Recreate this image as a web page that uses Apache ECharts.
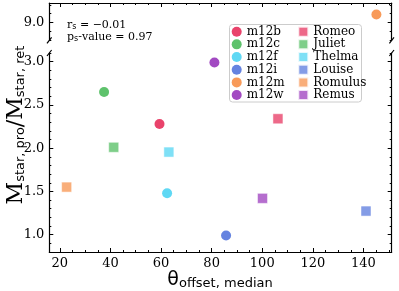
<!DOCTYPE html>
<html>
<head>
<meta charset="utf-8">
<script src="https://cdn.jsdelivr.net/npm/echarts@6/dist/echarts.min.js"></script>
<style>html,body{margin:0;padding:0;background:#fff}#c{width:399px;height:291px}</style>
</head>
<body>
<div id="c"></div>
<script>
// ---- data ----
const circleNames = ['m12b', 'm12c', 'm12f', 'm12i', 'm12m', 'm12w'];
const circleX = [59.4, 37.5, 62.4, 85.7, 145.1, 81.1];
const circleY = [2.28, 2.65, 1.48, 0.99, 9.09, 2.99];
const squareNames = ['Romeo', 'Juliet', 'Thelma', 'Louise', 'Romulus', 'Remus'];
const squareX = [106.2, 41.3, 63.1, 141.0, 22.7, 100.1];
const squareY = [2.34, 2.01, 1.955, 1.273, 1.55, 1.42];
const colors = ['#e9436b', '#5ec26c', '#5fd8f4', '#6583e0', '#f89a59', '#a24ac2'];
const xTicks = [20, 40, 60, 80, 100, 120, 140];
const xMinorTicks = [20,25,30,35,40,45,50,55,60,65,70,75,80,85,90,95,100,105,110,115,120,125,130,135,140,145,150];
const yLowTicks = [1.0, 1.5, 2.0, 2.5, 3.0];
const yLowMinor = [0.8,0.9,1.0,1.1,1.2,1.3,1.4,1.5,1.6,1.7,1.8,1.9,2.0,2.1,2.2,2.3,2.4,2.5,2.6,2.7,2.8,2.9,3.0,3.1];
const yHighTicks = [9.0];
const yHighMinor = [8.8, 8.9, 9.0, 9.1, 9.2];
const xRange = [15.85, 151.15];
const yLowRange = [0.8, 3.1];
const yHighRange = [8.8, 9.22];
const statR = '−0.01';
const statP = '0.97';

const serif = 'DejaVu Serif';
const sans = 'DejaVu Sans';
const lineStyle = {color: '#000', width: 1.2};

function xAx(grid, pos, ticks, len, showLine, labels) {
  return {
    type: 'value', gridIndex: grid, position: pos, min: xRange[0], max: xRange[1],
    axisLine: {show: showLine, lineStyle: lineStyle},
    axisTick: {show: true, inside: true, length: len, customValues: ticks, lineStyle: {color: '#000', width: 1}},
    axisLabel: labels ? {show: true, customValues: ticks, fontFamily: serif, fontSize: 13, color: '#000', margin: 5} : {show: false},
    splitLine: {show: false}
  };
}
function yAx(grid, pos, range, ticks, len, showLine, labels) {
  return {
    type: 'value', gridIndex: grid, position: pos, min: range[0], max: range[1],
    axisLine: {show: showLine, lineStyle: lineStyle},
    axisTick: {show: true, inside: true, length: len, customValues: ticks, lineStyle: {color: '#000', width: 1}},
    axisLabel: labels ? {show: true, customValues: ticks, fontFamily: serif, fontSize: 13, color: '#000', margin: 5,
      formatter: v => v.toFixed(1)} : {show: false},
    splitLine: {show: false}
  };
}

const series = [];
circleNames.forEach((n, i) => {
  const high = circleY[i] > 5;
  series.push({
    name: n, type: 'scatter', symbol: 'circle', symbolSize: 10,
    xAxisIndex: high ? 0 : 2, yAxisIndex: high ? 0 : 4,
    itemStyle: {color: colors[i], opacity: 1},
    data: [[circleX[i], circleY[i]]]
  });
});
squareNames.forEach((n, i) => {
  const high = squareY[i] > 5;
  series.push({
    name: n, type: 'scatter', symbol: 'rect', symbolSize: 10,
    xAxisIndex: high ? 0 : 2, yAxisIndex: high ? 0 : 4,
    itemStyle: {color: colors[i], borderColor: '#fff', borderWidth: 0.6},
    data: [[squareX[i], squareY[i]]]
  });
});

const legendText = {fontFamily: serif, fontSize: 12, color: '#000', lineHeight: 12};
const option = {
  animation: false,
  grid: [
    {left: 49.3, right: 7.3, top: 3, height: 37.3},
    {left: 49.3, right: 7.3, top: 53, bottom: 39}
  ],
  xAxis: [
    xAx(0, 'top', xTicks, 4, true, false),
    xAx(0, 'top', xMinorTicks, 2, false, false),
    xAx(1, 'bottom', xTicks, 4, true, true),
    xAx(1, 'bottom', xMinorTicks, 2, false, false)
  ],
  yAxis: [
    yAx(0, 'left', yHighRange, yHighTicks, 4, true, true),
    yAx(0, 'left', yHighRange, yHighMinor, 2, false, false),
    yAx(0, 'right', yHighRange, yHighTicks, 4, true, false),
    yAx(0, 'right', yHighRange, yHighMinor, 2, false, false),
    yAx(1, 'left', yLowRange, yLowTicks, 4, true, true),
    yAx(1, 'left', yLowRange, yLowMinor, 2, false, false),
    yAx(1, 'right', yLowRange, yLowTicks, 4, true, false),
    yAx(1, 'right', yLowRange, yLowMinor, 2, false, false)
  ],
  legend: [
    {data: circleNames.map(n => ({name: n, icon: 'circle'})), orient: 'vertical', left: 231.7, top: 25.7, padding: 0,
      itemWidth: 10, itemHeight: 10, itemGap: 0.67, itemTextGap: 4, textStyle: legendText},
    {data: squareNames.map(n => ({name: n, icon: 'rect'})), orient: 'vertical', left: 297.3, top: 25.7, padding: 0,
      itemWidth: 10, itemHeight: 10, itemGap: 0.67, itemTextGap: 5, textStyle: legendText}
  ],
  graphic: [
    {type: 'rect', z: 1, shape: {x: 229.5, y: 24.5, width: 132, height: 77.5, r: 3},
      style: {fill: 'rgba(255,255,255,0.8)', stroke: '#cccccc', lineWidth: 1}},
    // axis break marks
    {type: 'line', shape: {x1: 47, y1: 43.3, x2: 51.6, y2: 37.3}, style: {stroke: '#000', lineWidth: 1.2}},
    {type: 'line', shape: {x1: 389.4, y1: 43.3, x2: 394, y2: 37.3}, style: {stroke: '#000', lineWidth: 1.2}},
    {type: 'line', shape: {x1: 47, y1: 56, x2: 51.6, y2: 50}, style: {stroke: '#000', lineWidth: 1.2}},
    {type: 'line', shape: {x1: 389.4, y1: 56, x2: 394, y2: 50}, style: {stroke: '#000', lineWidth: 1.2}},
    // stats annotation
    {type: 'text', left: 67, top: 20, style: {
      text: '{a|r}{s|s}{a| = ' + statR + '}\n{a|p}{s|s}{a|-value = ' + statP + '}',
      rich: {
        a: {fontFamily: serif, fontSize: 11, lineHeight: 12, verticalAlign: 'bottom', fill: '#000'},
        s: {fontFamily: sans, fontSize: 8, lineHeight: 8, verticalAlign: 'bottom', fill: '#000'}
      }}},
    // y axis title
    {type: 'text', x: 10, y: 125, rotation: Math.PI / 2, style: {
      text: '{m|M}{s|star, pro}{m|/M}{s|star, ret}', align: 'center', verticalAlign: 'middle',
      rich: {
        m: {fontFamily: serif, fontSize: 22, lineHeight: 34, verticalAlign: 'bottom', fill: '#000'},
        s: {fontFamily: sans, fontSize: 13, lineHeight: 16, verticalAlign: 'bottom', fill: '#000'}
      }}},
    // x axis title
    {type: 'text', x: 220, y: 290, style: {
      text: '{m|θ}{s|offset, median}', align: 'center', verticalAlign: 'bottom',
      rich: {
        m: {fontFamily: sans, fontSize: 19, lineHeight: 26, verticalAlign: 'bottom', fill: '#000'},
        s: {fontFamily: sans, fontSize: 13, lineHeight: 13, verticalAlign: 'bottom', fill: '#000'}
      }}}
  ],
  series: series
};
const chart = echarts.init(document.getElementById('c'), null, {renderer: 'canvas'});
chart.setOption(option);
</script>
</body>
</html>
